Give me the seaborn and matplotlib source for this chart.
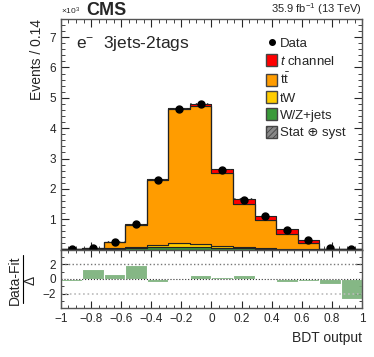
import numpy as np
import pandas as pd
import matplotlib.pyplot as plt
import matplotlib.patches as mpatches
from matplotlib.lines import Line2D
from matplotlib.ticker import MultipleLocator
import seaborn as sns

# ---- data (in units of 10^3 events) ----
edges = np.linspace(-1, 1, 15)
centers = 0.5 * (edges[:-1] + edges[1:])

data_evt  = [0.012, 0.06, 0.24, 0.85, 2.30, 4.62, 4.81, 2.63, 1.63, 1.10, 0.66, 0.31, 0.04, 0.015]
tchannel  = [0.001, 0.003, 0.005, 0.01, 0.02, 0.03, 0.09, 0.13, 0.16, 0.15, 0.16, 0.11, 0.015, 0.004]
tw        = [0.002, 0.005, 0.015, 0.03, 0.08, 0.14, 0.11, 0.05, 0.03, 0.02, 0.012, 0.008, 0.004, 0.002]
wzjets    = [0.003, 0.008, 0.03, 0.06, 0.085, 0.09, 0.08, 0.06, 0.05, 0.03, 0.02, 0.01, 0.005, 0.002]
total     = [0.012, 0.05, 0.26, 0.83, 2.31, 4.65, 4.81, 2.65, 1.67, 1.11, 0.67, 0.32, 0.03, 0.012]
ttbar     = [t - a - b - c for t, a, b, c in zip(total, tchannel, tw, wzjets)]
syst      = [0.002, 0.003, 0.006, 0.012, 0.02, 0.03, 0.03, 0.02, 0.015, 0.01, 0.008, 0.005, 0.002, 0.001]

pull = [-0.3, 1.35, 0.68, 1.94, -0.45, -0.05, 0.5, 0.32, 0.58, 0.12, -0.45, -0.22, -0.72, -2.7]

procs = ["t channel", "ttbar", "tW", "W/Z+jets"]
colors = {"t channel": "#ff0000", "ttbar": "#ff9c00", "tW": "#ffcc00", "W/Z+jets": "#3a9a3a"}

rows = []
for name, vals in zip(procs, [tchannel, ttbar, tw, wzjets]):
    for c, v in zip(centers, vals):
        rows.append({"bdt": c, "events": v, "process": name})
df = pd.DataFrame(rows)
df_pull = pd.DataFrame({"bdt": centers, "pull": pull})

sns.set_style("ticks")
plt.rcParams["font.family"] = ["Liberation Sans", "DejaVu Sans"]
plt.rcParams["mathtext.fontset"] = "custom"
plt.rcParams["mathtext.rm"] = "Liberation Sans"
plt.rcParams["mathtext.it"] = "Liberation Sans:italic"
plt.rcParams["hatch.linewidth"] = 0.6

fig = plt.figure(figsize=(3.74, 3.57), dpi=100)
ax = fig.add_axes([0.163, 0.301, 0.805, 0.646])
axr = fig.add_axes([0.163, 0.137, 0.805, 0.163], sharex=ax)

sns.histplot(data=df, x="bdt", weights="events", hue="process", hue_order=procs,
             multiple="stack", bins=14, binrange=(-1, 1), element="step", palette=colors,
             alpha=1, edgecolor="#222222", linewidth=0.8, legend=False, ax=ax)

# stat+syst band
tot = np.array(total)
ax.bar(centers, 2 * np.array(syst), bottom=tot - np.array(syst), width=edges[1] - edges[0],
       color="none", edgecolor="#333333", hatch="//////", linewidth=0)

ax.errorbar(centers, data_evt, yerr=np.sqrt(np.array(data_evt) / 1000.0), fmt="o",
            color="black", markersize=5, elinewidth=1, capsize=0)

ax.set_xlim(-1, 1)
ax.set_ylim(0, 7.6)
ax.yaxis.set_major_locator(MultipleLocator(1))
ax.yaxis.set_minor_locator(MultipleLocator(0.2))
ax.set_yticks([1, 2, 3, 4, 5, 6, 7])
ax.xaxis.set_major_locator(MultipleLocator(0.2))
ax.xaxis.set_minor_locator(MultipleLocator(0.05))
ax.tick_params(which="both", direction="in", top=True, right=True, labelbottom=False, labelsize=8.5)
ax.tick_params(which="major", length=6)
ax.tick_params(which="minor", length=3)
ax.set_xlabel("")
ax.set_ylabel("Events / 0.14", loc="top", fontsize=10)

ax.text(0.0, 1.01, r"$\times10^{3}$", transform=ax.transAxes, fontsize=6, ha="left", va="bottom")
ax.text(0.083, 1.0, "CMS", transform=ax.transAxes, fontsize=13, fontweight="bold", ha="left", va="bottom")
ax.text(1.0, 1.008, "35.9 fb$^{-1}$ (13 TeV)", transform=ax.transAxes, fontsize=8, ha="right", va="bottom")
ax.text(0.05, 0.895, r"e$^{-}$  3jets-2tags", transform=ax.transAxes, fontsize=12.5, ha="left", va="center")

handles = [
    Line2D([], [], marker="o", color="black", linestyle="none", markersize=4),
    mpatches.Patch(facecolor=colors["t channel"], edgecolor="#444444"),
    mpatches.Patch(facecolor=colors["ttbar"], edgecolor="#444444"),
    mpatches.Patch(facecolor=colors["tW"], edgecolor="#444444"),
    mpatches.Patch(facecolor=colors["W/Z+jets"], edgecolor="#444444"),
    mpatches.Patch(facecolor="#888888", edgecolor="#444444", hatch="//////"),
]
labels = ["Data", r"$t$ channel", r"t$\bar{\mathrm{t}}$", "tW", "W/Z+jets", "Stat \u2295 syst"]
ax.legend(handles, labels, loc="upper left", bbox_to_anchor=(0.665, 0.945), frameon=False,
          fontsize=9.5, handlelength=0.8, handleheight=1.0, handletextpad=0.2,
          labelspacing=0.3, borderaxespad=0)

# pull panel
sns.histplot(data=df_pull, x="bdt", weights="pull", bins=14, binrange=(-1, 1), element="bars",
             color="#78b078", alpha=0.9, edgecolor="white", linewidth=0.8, ax=axr)
axr.axhline(2, color="#777777", linestyle=":", linewidth=1)
axr.axhline(-2, color="#bbbbbb", linestyle=":", linewidth=1.2)
axr.axhline(0, color="#333333", linestyle=":", linewidth=0.8)
axr.set_ylim(-4, 4)
axr.set_yticks([-2, 0, 2])
axr.yaxis.set_minor_locator(MultipleLocator(1))
axr.tick_params(which="both", direction="in", top=True, right=True, labelsize=8.5)
axr.tick_params(which="major", length=5)
axr.tick_params(which="minor", length=2.5)
axr.set_ylabel("")
fig.text(0.04, 0.215, "Data-Fit", rotation=90, fontsize=10, ha="center", va="center")
fig.add_artist(Line2D([0.062, 0.062], [0.15, 0.285], color="black", linewidth=0.8))
fig.text(0.083, 0.215, "\u0394", rotation=90, fontsize=10, ha="center", va="center")
axr.set_xlabel("BDT output", loc="right", fontsize=10)
axr.set_xticks([-1, -0.8, -0.6, -0.4, -0.2, 0, 0.2, 0.4, 0.6, 0.8, 1])
axr.set_xticklabels(["\u22121", "\u22120.8", "\u22120.6", "\u22120.4", "\u22120.2", "0",
                     "0.2", "0.4", "0.6", "0.8", "1"])
axr.set_yticklabels(["\u22122", "0", "2"])

for a in (ax, axr):
    for s in a.spines.values():
        s.set_color("#555555")
        s.set_linewidth(1)

fig.savefig("out.png", dpi=100)
